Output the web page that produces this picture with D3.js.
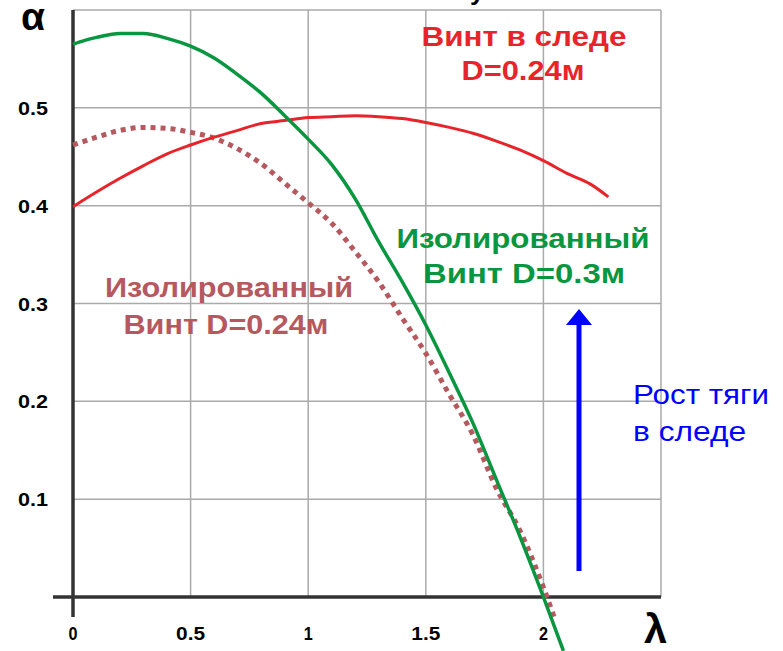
<!DOCTYPE html>
<html>
<head>
<meta charset="utf-8">
<script src="https://cdn.jsdelivr.net/npm/d3@7"></script>
<style>
    body { margin: 0; background: #ffffff; }
    svg { display: block; font-family: "Liberation Sans", Arial, sans-serif; }
</style>
</head>
<body>
<svg id="chart" width="783" height="651"></svg>
<script>
// lambda values and alpha series
var greenLambda = [0, 0.05, 0.1, 0.2, 0.3, 0.4, 0.5, 0.6, 0.7, 0.8, 0.9, 1.0, 1.1, 1.2, 1.3, 1.4, 1.5, 1.6, 1.7, 1.8, 1.9, 2.0, 2.085];
var greenAlpha  = [0.565, 0.569, 0.572, 0.576, 0.576, 0.571, 0.563, 0.551, 0.534, 0.515, 0.492, 0.468, 0.442, 0.407, 0.363, 0.322, 0.278, 0.229, 0.178, 0.12, 0.062, 0.0, -0.055];

var redLambda = [0, 0.1, 0.2, 0.3, 0.4, 0.5, 0.6, 0.7, 0.8, 0.9, 1.0, 1.1, 1.2, 1.3, 1.4, 1.5, 1.6, 1.7, 1.8, 1.9, 2.0, 2.1, 2.2, 2.276];
var redAlpha  = [0.399, 0.414, 0.428, 0.441, 0.453, 0.462, 0.470, 0.477, 0.484, 0.487, 0.490, 0.491, 0.492, 0.491, 0.489, 0.485, 0.480, 0.474, 0.466, 0.457, 0.446, 0.433, 0.422, 0.409];

var dotLambda = [0, 0.1, 0.2, 0.3, 0.4, 0.5, 0.6, 0.7, 0.8, 0.9, 1.0, 1.1, 1.2, 1.3, 1.4, 1.5, 1.6, 1.7, 1.8, 1.9, 2.0, 2.045];
var dotAlpha  = [0.462, 0.470, 0.477, 0.480, 0.479, 0.475, 0.469, 0.458, 0.443, 0.423, 0.403, 0.382, 0.353, 0.322, 0.285, 0.249, 0.207, 0.166, 0.111, 0.068, 0.01, -0.02];

var xTicks = [0, 0.5, 1, 1.5, 2];
var xTickLabels = ['0', '0.5', '1', '1.5', '2'];
var yTicks = [0.1, 0.2, 0.3, 0.4, 0.5];
var yTickLabels = ['0.1', '0.2', '0.3', '0.4', '0.5'];

var svg = d3.select('#chart');

var x = d3.scaleLinear().domain([0, 2.5]).range([73, 661]);
var y = d3.scaleLinear().domain([0, 0.6]).range([597, 10]);

// grid
var grid = svg.append('g').attr('stroke', '#aaaaaa').attr('stroke-width', 1.5);
grid.selectAll('line.v').data([0.5, 1, 1.5, 2, 2.5]).enter().append('line')
    .attr('x1', function (d) { return x(d); }).attr('x2', function (d) { return x(d); })
    .attr('y1', y(0.6)).attr('y2', y(0));
grid.selectAll('line.h').data([0.1, 0.2, 0.3, 0.4, 0.5, 0.6]).enter().append('line')
    .attr('x1', x(0)).attr('x2', x(2.5))
    .attr('y1', function (d) { return y(d); }).attr('y2', function (d) { return y(d); });

// axes
svg.append('line').attr('x1', x(0)).attr('x2', x(0)).attr('y1', y(0.6)).attr('y2', y(0) + 20)
    .attr('stroke', '#333333').attr('stroke-width', 3.5);
svg.append('line').attr('x1', x(0) - 20).attr('x2', x(2.5)).attr('y1', y(0)).attr('y2', y(0))
    .attr('stroke', '#333333').attr('stroke-width', 3.5);

function addText(str, px, py, size, width, color, weight, anchor) {
    var t = svg.append('text').text(str)
        .attr('x', px).attr('y', py)
        .attr('font-size', size)
        .attr('font-weight', weight || 'bold')
        .attr('fill', color || '#000000')
        .attr('text-anchor', anchor || 'middle');
    if (width) t.attr('textLength', width).attr('lengthAdjust', 'spacingAndGlyphs');
    return t;
}

// tick labels
yTicks.forEach(function (d, i) {
    addText(yTickLabels[i], 48, y(d) + 7, 18, 30, '#000', 'bold', 'end');
});
xTicks.forEach(function (d, i) {
    addText(xTickLabels[i], x(d), 640, 18, xTickLabels[i].length > 1 ? 29 : 9, '#000', 'bold', 'middle');
});

// axis names
addText('\u03b1', 21, 30, 38, 24, '#000', 'bold', 'start');
addText('\u03bb', 644, 643, 40, 23, '#000', 'bold', 'start');
// cut off title fragment at the top edge
addText('\u0443', 470, 0, 26, null, '#000', 'bold', 'start');

// curves
var line = d3.line()
    .x(function (d) { return x(d[0]); })
    .y(function (d) { return y(d[1]); })
    .curve(d3.curveMonotoneX);

svg.append('path').datum(d3.zip(dotLambda, dotAlpha))
    .attr('d', line).attr('fill', 'none')
    .attr('stroke', '#b5595f').attr('stroke-width', 5).attr('stroke-dasharray', '5,5');
svg.append('path').datum(d3.zip(redLambda, redAlpha))
    .attr('d', line).attr('fill', 'none')
    .attr('stroke', '#e8242b').attr('stroke-width', 3);
svg.append('path').datum(d3.zip(greenLambda, greenAlpha))
    .attr('d', line).attr('fill', 'none')
    .attr('stroke', '#0a9640').attr('stroke-width', 3.5);

// labels
addText('Винт в следе', 524, 46, 27, 205, '#e8242b');
addText('D=0.24м', 523, 80, 27, 123, '#e8242b');

addText('Изолированный', 229, 297, 28, 248, '#b5595f');
addText('Винт D=0.24м', 226, 334, 28, 205, '#b5595f');

addText('Изолированный', 523, 248, 28, 253, '#0a9640');
addText('Винт  D=0.3м', 524, 283, 28, 202, '#0a9640');

// arrow
svg.append('line').attr('x1', 579).attr('x2', 579).attr('y1', 571).attr('y2', 322)
    .attr('stroke', '#0000ff').attr('stroke-width', 5);
svg.append('path').attr('d', 'M' + 566 + ',' + 325 + 'L' + 579 + ',' + 309 + 'L' + 592 + ',' + 325 + 'Z')
    .attr('fill', '#0000ff');

addText('Рост тяги', 633, 404, 28, 136, '#0000ff', 'normal', 'start');
addText('в следе', 633, 441, 28, 113, '#0000ff', 'normal', 'start');
</script>
</body>
</html>
